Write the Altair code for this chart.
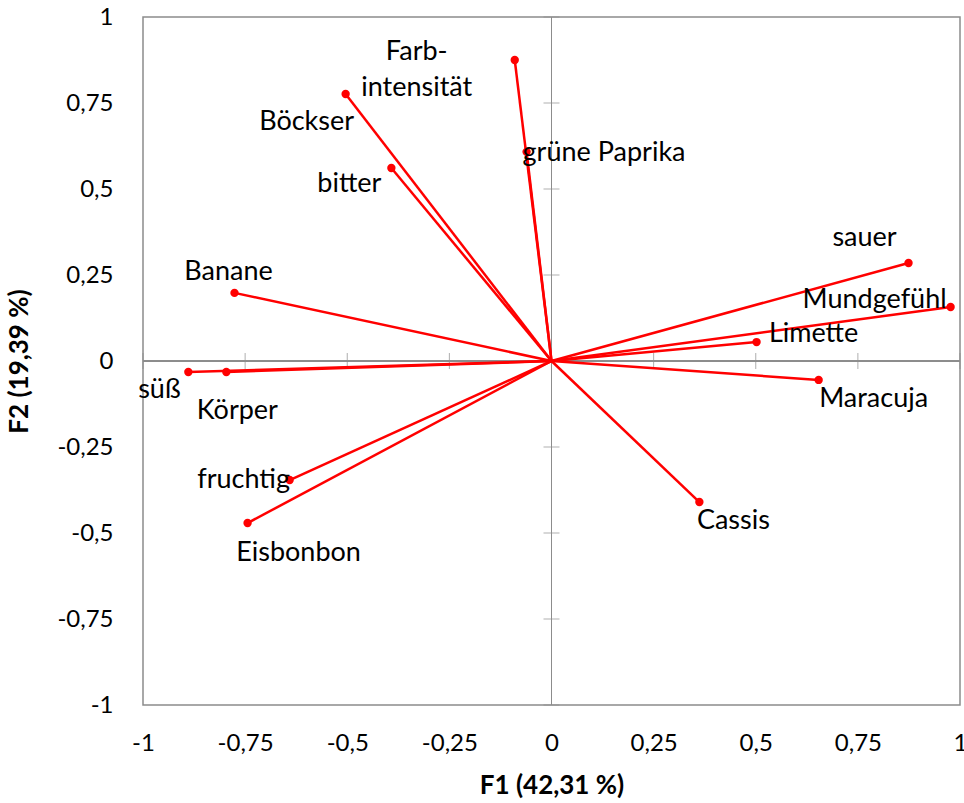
import altair as alt
import pandas as pd

# ---- data ----
names = ["Farb-\nintensität", "Böckser", "bitter", "grüne Paprika", "sauer",
         "Mundgefühl", "Limette", "Maracuja", "Cassis", "Banane", "süß",
         "Körper", "fruchtig", "Eisbonbon"]
f1 = [-0.090, -0.504, -0.392, -0.061, 0.874, 0.977, 0.502, 0.654, 0.362,
      -0.776, -0.889, -0.796, -0.641, -0.744]
f2 = [0.875, 0.776, 0.561, 0.608, 0.285, 0.157, 0.055, -0.055, -0.410,
      0.198, -0.032, -0.032, -0.346, -0.471]
tick_values = [-1, -0.75, -0.5, -0.25, 0, 0.25, 0.5, 0.75, 1]

# label offsets in pixels (style, not data)
label_style = {
    "Farb-\nintensität": dict(dx=-98, dy=-8, align="center"),
    "Böckser": dict(dx=-39, dy=28, align="center"),
    "bitter": dict(dx=-42, dy=16, align="center"),
    "grüne Paprika": dict(dx=-4, dy=1, align="left"),
    "sauer": dict(dx=-44, dy=-25, align="center"),
    "Mundgefühl": dict(dx=-76, dy=-7, align="center"),
    "Limette": dict(dx=57, dy=-8, align="center"),
    "Maracuja": dict(dx=55, dy=19, align="center"),
    "Cassis": dict(dx=34, dy=19, align="center"),
    "Banane": dict(dx=-6, dy=-21, align="center"),
    "süß": dict(dx=-29, dy=18, align="center"),
    "Körper": dict(dx=11, dy=39, align="center"),
    "fruchtig": dict(dx=-46, dy=0, align="center"),
    "Eisbonbon": dict(dx=51, dy=30, align="center"),
}

df = pd.DataFrame({"name": names, "F1": f1, "F2": f2})
ticks = pd.DataFrame({"v": tick_values})

FONT = "Lato"
RED = "#FF0000"
GRAY = "#8c8c8c"

xscale = alt.Scale(domain=[-1, 1], nice=False, zero=False)
yscale = alt.Scale(domain=[-1, 1], nice=False, zero=False)

lab_expr = "replace(toString(datum.value), '.', ',')"

base = alt.Chart(df)

# axes-only layer (labels on the frame)
axes_layer = alt.Chart(ticks).mark_point(opacity=0).encode(
    x=alt.X("v:Q", scale=xscale,
            axis=alt.Axis(values=tick_values, labelExpr=lab_expr, grid=False,
                          domain=False, ticks=False, labelFont=FONT,
                          labelFontSize=24, labelColor="black",
                          labelPadding=26, title="F1 (42,31 %)",
                          titleFont=FONT, titleFontSize=26,
                          titleFontWeight="bold", titleColor="black",
                          titlePadding=17, labelFlush=False)),
    y=alt.Y("v:Q", scale=yscale,
            axis=alt.Axis(values=tick_values, labelExpr=lab_expr, grid=False,
                          domain=False, ticks=False, labelFont=FONT,
                          labelFontSize=24, labelColor="black",
                          labelPadding=30, title="F2 (19,39 %)",
                          titleFont=FONT, titleFontSize=26,
                          titleFontWeight="bold", titleColor="black",
                          titlePadding=24, labelFlush=False)),
)

zero_v = alt.Chart(ticks).mark_rule(color=GRAY, strokeWidth=1).encode(
    x=alt.datum(0, scale=xscale))
zero_h = alt.Chart(ticks).mark_rule(color=GRAY, strokeWidth=1).encode(
    y=alt.datum(0, scale=yscale))

xt = alt.Chart(ticks).mark_tick(color=GRAY, orient="vertical", size=16,
                                thickness=1).encode(
    x=alt.X("v:Q", scale=xscale), y=alt.datum(0, scale=yscale))
yt = alt.Chart(ticks).mark_tick(color=GRAY, orient="horizontal", size=16,
                                thickness=1).encode(
    y=alt.Y("v:Q", scale=yscale), x=alt.datum(0, scale=xscale))

vectors = base.transform_calculate(zero="0").mark_rule(
    color=RED, strokeWidth=2.5).encode(
    x=alt.X("zero:Q", scale=xscale), x2="F1:Q",
    y=alt.Y("zero:Q", scale=yscale), y2="F2:Q")

points = base.mark_circle(color=RED, size=70, opacity=1).encode(
    x=alt.X("F1:Q", scale=xscale), y=alt.Y("F2:Q", scale=yscale))

labels = []
for n in names:
    st = label_style[n]
    labels.append(
        base.transform_filter(alt.datum.name == n).mark_text(
            font=FONT, fontSize=27, color="black", baseline="middle",
            lineBreak="\n", lineHeight=36, **st).encode(
            x=alt.X("F1:Q", scale=xscale), y=alt.Y("F2:Q", scale=yscale),
            text="name:N"))

chart = alt.layer(axes_layer, zero_v, zero_h, xt, yt, vectors, points,
                  *labels).properties(
    width=817, height=688,
    autosize=alt.AutoSizeParams(type="none"),
    padding={"left": 143, "top": 17, "right": 4, "bottom": 98},
    background="white",
).configure_view(stroke=GRAY, strokeWidth=1.5)

chart.save("out.html", embed_options={"renderer": "svg", "actions": False})
